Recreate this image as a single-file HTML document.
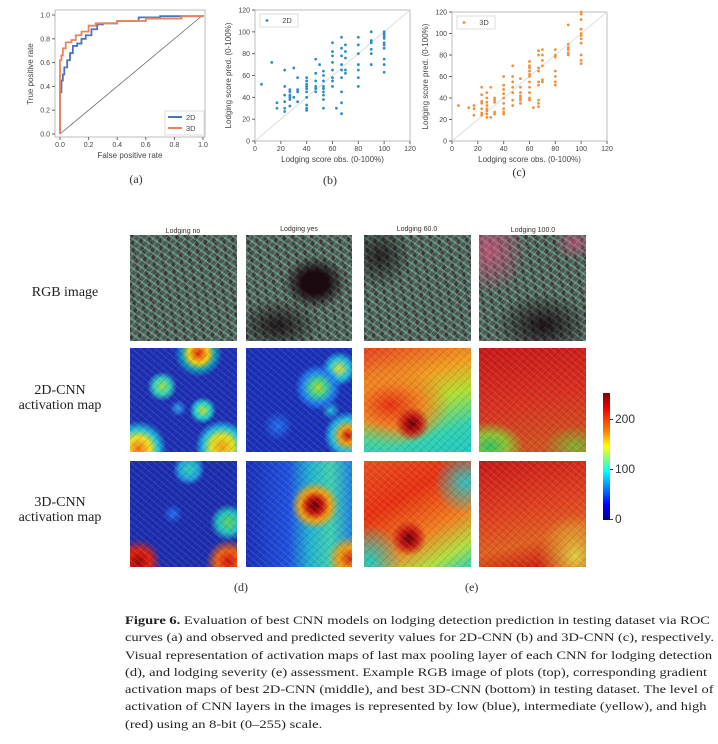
<!DOCTYPE html>
<html><head><meta charset="utf-8">
<style>
body{margin:0;width:718px;height:744px;background:#fff;position:relative;overflow:hidden;font-family:"Liberation Sans",sans-serif}
.abs{position:absolute}
.tile{position:absolute;overflow:hidden}
.rgb{background:
 repeating-linear-gradient(35deg,rgba(130,220,180,.4) 0 2px,transparent 2px 6px),
 repeating-linear-gradient(-50deg,rgba(210,235,225,.28) 0 1px,transparent 1px 5px),
 repeating-linear-gradient(80deg,rgba(40,20,30,.5) 0 3px,transparent 3px 9px),#4a5a52}
.tex{position:absolute;inset:0;background:repeating-linear-gradient(40deg,rgba(255,255,255,.12) 0 1px,transparent 1px 5px),repeating-linear-gradient(-45deg,rgba(0,0,0,.12) 0 1px,transparent 1px 6px)}
.rowlab{position:absolute;font-family:"Liberation Serif",serif;font-size:14px;color:#222;text-align:center;line-height:15px}
.hdr{position:absolute;font-size:7px;color:#333;width:110px;text-align:center}
.cap{position:absolute;left:125px;top:612px;font-family:"Liberation Serif",serif;font-size:11.6px;line-height:17.3px;color:#222;white-space:nowrap;transform:scaleX(1.25);transform-origin:0 0}
</style></head><body>
<svg class="abs" style="left:0;top:0" width="718" height="200" id="top"></svg>

<div class="hdr" style="left:128px;top:228px">Lodging no</div>
<div class="hdr" style="left:244px;top:226px">Lodging yes</div>
<div class="hdr" style="left:362px;top:226px">Lodging 60.0</div>
<div class="hdr" style="left:478px;top:227px">Lodging 100.0</div>

<div class="rowlab" style="left:20px;top:285px;width:90px">RGB image</div>
<div class="rowlab" style="left:8px;top:383px;width:104px">2D-CNN<br>activation map</div>
<div class="rowlab" style="left:8px;top:495px;width:104px">3D-CNN<br>activation map</div>

<div class="tile rgb" style="left:130px;top:235px;width:107px;height:106px"></div>
<div class="tile rgb" style="left:246px;top:235px;width:106px;height:106px"><div class="abs" style="inset:0;background:radial-gradient(ellipse 30% 25% at 65% 45%,#1a0a10 40%,transparent 100%),radial-gradient(ellipse 40% 25% at 30% 85%,rgba(20,5,10,.8),transparent)"></div></div>
<div class="tile rgb" style="left:364px;top:235px;width:107px;height:106px"><div class="abs" style="inset:0;background:radial-gradient(ellipse 30% 30% at 15% 20%,rgba(20,5,10,.7),transparent)"></div></div>
<div class="tile rgb" style="left:479px;top:235px;width:107px;height:106px"><div class="abs" style="inset:0;background:radial-gradient(ellipse 35% 40% at 10% 15%,rgba(230,80,130,.65),transparent),radial-gradient(ellipse 20% 15% at 90% 8%,rgba(220,80,130,.6),transparent),radial-gradient(ellipse 45% 30% at 60% 85%,rgba(20,5,10,.85),transparent)"></div></div>

<div class="tile" style="left:130px;top:348px;width:107px;height:104px;background:
radial-gradient(circle at 64% 5%,#e02010 0,#f0d010 8%,rgba(0,220,200,.6) 14%,transparent 20%),
radial-gradient(circle at 30% 37%,#a0e040 0,#30d0c0 8%,transparent 15%),
radial-gradient(circle at 68% 60%,#c0e030 0,#20d0d0 8%,transparent 14%),
radial-gradient(circle at 45% 58%,#30a0f0 0,transparent 10%),
radial-gradient(circle at 8% 97%,#f07010 0,#f0e020 8%,#20c0e0 14%,transparent 20%),
radial-gradient(circle at 86% 95%,#f0a010 0,#e0e020 8%,#20c0e0 14%,transparent 20%),#1d2fb4"><div class="tex"></div></div>
<div class="tile" style="left:246px;top:348px;width:106px;height:104px;background:
radial-gradient(circle at 68% 38%,#b0d830 0,#40d090 8%,#2080f0 16%,transparent 24%),
radial-gradient(circle at 88% 20%,#e0e030 0,#20c0e0 8%,transparent 14%),
radial-gradient(circle at 96% 84%,#c01010 0,#f0a010 6%,#20c0e0 12%,transparent 18%),
radial-gradient(circle at 80% 60%,#20c0e0 0,transparent 9%),
radial-gradient(circle at 30% 75%,#2070f0 0,transparent 14%),#1a30b8"><div class="tex"></div></div>
<div class="tile" style="left:364px;top:348px;width:107px;height:104px;background:
radial-gradient(circle at 45% 73%,#600000 0,#c01010 8%,transparent 18%),
radial-gradient(ellipse 70% 50% at 25% 55%,#e83010 0,#f08020 40%,transparent 80%),
linear-gradient(160deg,#e84020 0%,#f0a020 35%,#b0e030 55%,#30d0b0 80%,#20c8c0 100%)"><div class="abs" style="left:0;bottom:0;width:45%;height:30%;background:radial-gradient(ellipse at 0% 100%,#30d0b0,transparent 70%)"></div><div class="tex"></div></div>
<div class="tile" style="left:479px;top:348px;width:107px;height:104px;background:
radial-gradient(ellipse 40% 30% at 10% 95%,#30c060,#90c030 40%,transparent 80%),
radial-gradient(ellipse 30% 20% at 90% 95%,#80b030,transparent),
linear-gradient(170deg,#c81818,#d83020 50%,#d05020 85%)"><div class="tex"></div></div>

<div class="tile" style="left:130px;top:461px;width:107px;height:106px;background:
radial-gradient(ellipse 15% 15% at 55% 8%,#30d0b0,#20a0e0 60%,transparent),
radial-gradient(circle at 92% 58%,#60d060 0,#20c0c0 9%,transparent 16%),
radial-gradient(circle at 40% 50%,#2070f0 0,transparent 12%),
radial-gradient(circle at 8% 95%,#a00000 0,#e02010 8%,transparent 16%),
radial-gradient(circle at 92% 95%,#d01010 0,#f06010 8%,transparent 16%),#1c2db0"><div class="tex"></div></div>
<div class="tile" style="left:246px;top:461px;width:106px;height:106px;background:
radial-gradient(circle at 65% 42%,#600000 0,#c01010 8%,#f0a010 16%,transparent 26%),
radial-gradient(circle at 98% 92%,#d03010 0,#f0a010 8%,transparent 16%),
linear-gradient(90deg,#1a30b8 0%,#2050e0 40%,#20b0d0 60%,#40d0b0 80%,#2080e0 100%)"><div class="tex"></div></div>
<div class="tile" style="left:364px;top:461px;width:107px;height:106px;background:
radial-gradient(circle at 42% 73%,#600000 0,#c01010 8%,transparent 18%),
radial-gradient(ellipse 30% 35% at 5% 95%,#20c8c0,transparent),
radial-gradient(ellipse 30% 30% at 95% 20%,#30c0c0,transparent),
linear-gradient(150deg,#e85020 0%,#e83010 35%,#f08020 65%,#b0e040 85%,#30d0b0 100%)"><div class="tex"></div></div>
<div class="tile" style="left:479px;top:461px;width:107px;height:106px;background:
radial-gradient(ellipse 35% 40% at 90% 90%,#e0d040,transparent),
linear-gradient(165deg,#c81818,#e04020 45%,#e06020 70%,#d02010 90%)"><div class="tex"></div></div>

<div class="abs" style="left:603px;top:393px;width:7px;height:127px;background:linear-gradient(#800000,#f00000 12%,#ff8000 30%,#ffff00 42%,#00ffff 62%,#0080ff 75%,#0000ff 88%,#000090)"></div>
<div class="abs" style="left:610px;top:419px;width:3px;height:1px;background:#333"></div>
<div class="abs" style="left:610px;top:469px;width:3px;height:1px;background:#333"></div>
<div class="abs" style="left:610px;top:519px;width:3px;height:1px;background:#333"></div>
<div class="abs" style="left:615px;top:412px;font-size:12px;color:#333">200</div>
<div class="abs" style="left:615px;top:462px;font-size:12px;color:#333">100</div>
<div class="abs" style="left:615px;top:512px;font-size:12px;color:#333">0</div>

<div class="abs" style="left:234px;top:580px;font-family:'Liberation Serif',serif;font-size:12px;color:#333">(d)</div>
<div class="abs" style="left:465px;top:580px;font-family:'Liberation Serif',serif;font-size:12px;color:#333">(e)</div>

<div class="cap"><b>Figure 6.</b> Evaluation of best CNN models on lodging detection prediction in testing dataset via ROC<br>curves (a) and observed and predicted severity values for 2D-CNN (b) and 3D-CNN (c), respectively.<br>Visual representation of activation maps of last max pooling layer of each CNN for lodging detection<br>(d), and lodging severity (e) assessment. Example RGB image of plots (top), corresponding gradient<br>activation maps of best 2D-CNN (middle), and best 3D-CNN (bottom) in testing dataset. The level of<br>activation of CNN layers in the images is represented by low (blue), intermediate (yellow), and high<br>(red) using an 8-bit (0–255) scale.</div>

<script>
const rocTicks=[0,0.2,0.4,0.6,0.8,1.0];
const roc2dFpr=[0,0,0.01,0.02,0.03,0.05,0.07,0.09,0.12,0.15,0.18,0.22,0.26,0.3,0.4,0.55,0.7,1];
const roc2dTpr=[0,0.35,0.45,0.5,0.56,0.62,0.68,0.74,0.76,0.8,0.83,0.88,0.92,0.93,0.95,0.98,0.99,1];
const roc3dFpr=[0,0,0.01,0.02,0.04,0.08,0.11,0.15,0.2,0.25,0.4,0.6,0.85,1];
const roc3dTpr=[0,0.62,0.66,0.72,0.77,0.79,0.83,0.86,0.91,0.93,0.95,0.97,0.99,1];
const scTicks=[0,20,40,60,80,100,120];
const obs2d=[5,13,17,17,23,23,23,23,23,23,27,27,27,27,27,27,30,30,33,33,33,33,40,40,40,40,40,40,40,40,40,40,47,47,47,47,47,47,50,53,53,53,53,53,53,53,53,53,60,60,60,60,60,60,60,60,63,67,67,67,67,67,67,67,67,67,70,70,70,70,70,80,80,80,80,80,80,80,90,90,90,90,90,90,100,100,100,100,100,100,100,100,100,100];
const pred2d=[52,72,35,30,65,50,42,30,27,36,45,40,32,42,38,47,67,40,58,47,36,45,58,55,50,45,40,33,30,28,48,52,75,55,48,45,62,50,70,64,60,55,48,45,42,38,30,50,90,82,78,72,65,58,55,50,30,95,85,78,70,65,58,45,35,25,88,82,76,65,62,95,88,80,70,65,58,50,100,92,90,84,80,70,100,98,96,94,90,88,85,75,70,63];
const obs3d=[5,13,17,17,17,23,23,23,23,23,23,23,27,27,27,27,27,27,27,27,30,30,33,33,33,33,33,40,40,40,40,40,40,40,40,40,47,47,47,47,47,47,47,53,53,53,53,53,53,53,60,60,60,60,60,60,60,60,60,60,60,63,67,67,67,67,67,67,67,67,67,70,70,70,70,70,70,80,80,80,80,80,80,80,90,90,90,90,90,90,100,100,100,100,100,100,100,100,100,100,100];
const pred3d=[33,31,33,30,24,50,43,37,35,30,26,24,45,40,33,30,28,25,22,36,22,50,40,38,36,27,25,60,52,48,44,40,35,30,27,25,70,60,55,50,45,38,33,58,50,45,42,40,38,35,74,70,68,65,62,60,55,50,45,40,38,31,84,80,68,65,55,52,38,35,32,85,80,75,70,57,55,85,80,78,65,60,55,52,108,90,87,85,82,80,120,118,113,104,100,98,95,91,80,75,72];

const NS='http://www.w3.org/2000/svg';
const svg=document.getElementById('top');
function mk(tag,attrs,parent){const e=document.createElementNS(NS,tag);for(const k in attrs)e.setAttribute(k,attrs[k]);(parent||svg).appendChild(e);return e;}
function txt(x,y,s,size,extra){const t=mk('text',Object.assign({x:x,y:y,'font-size':size,'font-family':'Liberation Sans, sans-serif',fill:'#444','text-anchor':'middle'},extra||{}));t.textContent=s;return t;}

const ax=v=>60+v*143, ay=v=>134-v*119;
let g=mk('g',{});


let fr=mk('rect',{x:55,y:10,width:150,height:127,fill:'none',stroke:'#bbb','stroke-width':1},g);


rocTicks.forEach(t=>{
  mk('line',{x1:ax(t),x2:ax(t),y1:137,y2:140,stroke:'#666'},g);
  txt(ax(t),147,t.toFixed(1),7,{});
  mk('line',{x1:52,x2:55,y1:ay(t),y2:ay(t),stroke:'#666'},g);
  txt(50,ay(t)+2.5,t.toFixed(1),7,{'text-anchor':'end'});
});
mk('line',{x1:ax(0),y1:ay(0),x2:ax(1),y2:ay(1),stroke:'#666','stroke-width':0.8},g);
function stepPath(xs,ys){let d='M'+ax(xs[0])+','+ay(ys[0]);for(let i=1;i<xs.length;i++){d+=' L'+ax(xs[i])+','+ay(ys[i-1])+' L'+ax(xs[i])+','+ay(ys[i]);}return d;}
let l2=mk('path',{d:stepPath(roc2dFpr,roc2dTpr),fill:'none',stroke:'#4a76c0','stroke-width':1.8},g);


let l3=mk('path',{d:stepPath(roc3dFpr,roc3dTpr),fill:'none',stroke:'#f0825a','stroke-width':1.8},g);


let lg=mk('rect',{x:165,y:111,width:39,height:24,fill:'#fff',stroke:'#ddd'},g);


mk('line',{x1:168,x2:182,y1:117,y2:117,stroke:'#4a76c0','stroke-width':2},g);
mk('line',{x1:168,x2:182,y1:128,y2:128,stroke:'#f0825a','stroke-width':2},g);
txt(186,120,'2D',7.5,{'text-anchor':'start'});
txt(186,131,'3D',7.5,{'text-anchor':'start'});
txt(130,158,'False positive rate',8);
txt(33,74,'True positive rate',8,{transform:'rotate(-90 33 74)'});
txt(136,183,'(a)',12,{'font-family':'Liberation Serif, serif',fill:'#333'});

function scatter(x0,x1,yTop,yBot,obs,pred,color,name,label,labX,labY){
  const sx=v=>x0+v/120*(x1-x0), sy=v=>yBot-v/120*(yBot-yTop);
  const gg=mk('g',{});
  
  
  const f=mk('rect',{x:x0,y:yTop,width:x1-x0,height:yBot-yTop,fill:'none',stroke:'#bbb'},gg);
  
  
  mk('line',{x1:sx(0),y1:sy(0),x2:sx(120),y2:sy(120),stroke:'#ddd','stroke-width':1},gg);
  scTicks.forEach(t=>{
    mk('line',{x1:sx(t),x2:sx(t),y1:yBot,y2:yBot+3,stroke:'#666'},gg);
    txt(sx(t),yBot+10,String(t),7);
    mk('line',{x1:x0-3,x2:x0,y1:sy(t),y2:sy(t),stroke:'#666'},gg);
    txt(x0-5,sy(t)+2.5,String(t),7,{'text-anchor':'end'});
  });
  for(let i=0;i<obs.length;i++){
    const c=mk('circle',{cx:sx(obs[i]),cy:sy(pred[i]),r:1.4,fill:color},gg);
    
    
  }
  const lb=mk('rect',{x:x0+5,y:yTop+4,width:38,height:13,fill:'#fff',stroke:'#ddd'},gg);
  
  
  mk('circle',{cx:x0+12,cy:yTop+10.5,r:1.4,fill:color},gg);
  txt(x0+32,yTop+13,label,7.5,{});
  txt((x0+x1)/2,yBot+21,'Lodging score obs. (0-100%)',8);
  const cy=(yTop+yBot)/2;
  txt(x0-24,cy,'Lodging score pred. (0-100%)',8,{transform:'rotate(-90 '+(x0-24)+' '+cy+')'});
  txt(labX,labY,'('+String.fromCharCode(96+ (name==='scatter-2d'?2:3))+')',12,{'font-family':'Liberation Serif, serif',fill:'#333'});
}
scatter(255,410,10,141,obs2d,pred2d,'#2e8cc0','scatter-2d','2D',330,184);
scatter(452,607,12,141,obs3d,pred3d,'#f0903a','scatter-3d','3D',519,176);
</script>
</body></html>
